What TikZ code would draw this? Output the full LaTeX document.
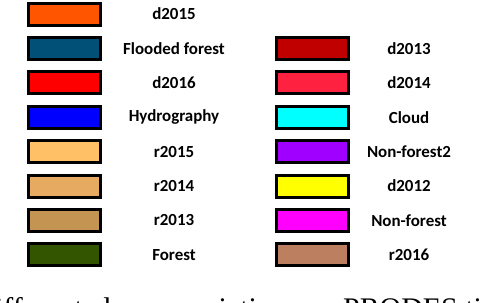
\documentclass[tikz,border=0pt]{standalone}
\usepackage{fontspec}
\setmainfont{Liberation Serif}
\newfontfamily\legendfont{Carlito}
\usepackage{xcolor}
\usepackage{tikz}
\usetikzlibrary{positioning}
\definecolor{d2015col}{RGB}{255,85,0}
\definecolor{floodcol}{RGB}{0,80,120}
\definecolor{d2016col}{RGB}{255,0,0}
\definecolor{hydrocol}{RGB}{0,0,255}
\definecolor{r2015col}{RGB}{255,192,102}
\definecolor{r2014col}{RGB}{230,170,96}
\definecolor{r2013col}{RGB}{196,148,82}
\definecolor{forestcol}{RGB}{51,85,0}
\definecolor{d2013col}{RGB}{192,0,0}
\definecolor{d2014col}{RGB}{255,34,64}
\definecolor{cloudcol}{RGB}{0,255,255}
\definecolor{nonforesttwocol}{RGB}{160,0,255}
\definecolor{d2012col}{RGB}{255,255,0}
\definecolor{nonforestcol}{RGB}{255,0,255}
\definecolor{r2016col}{RGB}{188,128,96}

\begin{document}
\begin{tikzpicture}[
    x=1bp, y=-1bp,
    node distance=9.4bp and 0bp,
    legbox/.style={rectangle, draw=black, line width=3bp, minimum width=72bp, minimum height=22bp, inner sep=0pt},
    leglabel/.style={inner sep=0pt, font=\legendfont\bfseries\fontsize{17}{20}\selectfont},
]
    \useasboundingbox (0,0) rectangle (486,302);

    % left column
    \node[legbox, fill=d2015col] (bd2015) at (64.5,14) {};
    \node[legbox, fill=floodcol, below=of bd2015] (bflood) {};
    \node[legbox, fill=d2016col, below=of bflood] (bd2016) {};
    \node[legbox, fill=hydrocol, below=of bd2016] (bhydro) {};
    \node[legbox, fill=r2015col, below=of bhydro] (br2015) {};
    \node[legbox, fill=r2014col, below=of br2015] (br2014) {};
    \node[legbox, fill=r2013col, below=of br2014] (br2013) {};
    \node[legbox, fill=forestcol, below=of br2013] (bforest) {};

    \node[leglabel] (ld2015) at ([xshift=109.5bp]bd2015.center) {d2015};
    \node[leglabel] (lflood) at ([xshift=109.5bp]bflood.center) {Flooded forest};
    \node[leglabel] (ld2016) at ([xshift=109.5bp]bd2016.center) {d2016};
    \node[leglabel] (lhydro) at ([xshift=109.5bp]bhydro.center) {Hydrography};
    \node[leglabel] (lr2015) at ([xshift=109.5bp]br2015.center) {r2015};
    \node[leglabel] (lr2014) at ([xshift=109.5bp]br2014.center) {r2014};
    \node[leglabel] (lr2013) at ([xshift=109.5bp]br2013.center) {r2013};
    \node[leglabel] (lforest) at ([xshift=109.5bp]bforest.center) {Forest};

    % right column
    \node[legbox, fill=d2013col] (bd2013) at (312,48.4) {};
    \node[legbox, fill=d2014col, below=of bd2013] (bd2014) {};
    \node[legbox, fill=cloudcol, below=of bd2014] (bcloud) {};
    \node[legbox, fill=nonforesttwocol, below=of bcloud] (bnonfor2) {};
    \node[legbox, fill=d2012col, below=of bnonfor2] (bd2012) {};
    \node[legbox, fill=nonforestcol, below=of bd2012] (bnonfor) {};
    \node[legbox, fill=r2016col, below=of bnonfor] (br2016) {};

    \node[leglabel] (ld2013) at ([xshift=97bp]bd2013.center) {d2013};
    \node[leglabel] (ld2014) at ([xshift=97bp]bd2014.center) {d2014};
    \node[leglabel] (lcloud) at ([xshift=97bp]bcloud.center) {Cloud};
    \node[leglabel] (lnonfor2) at ([xshift=97bp]bnonfor2.center) {Non-forest2};
    \node[leglabel] (ld2012) at ([xshift=97bp]bd2012.center) {d2012};
    \node[leglabel] (lnonfor) at ([xshift=97bp]bnonfor.center) {Non-forest};
    \node[leglabel] (lr2016) at ([xshift=97bp]br2016.center) {r2016};

    % caption line, cut by the page edge
    \node[anchor=base west, inner sep=0pt, font=\fontsize{30}{34}\selectfont] (capline) at (-20,318) {different classes variations on PRODES time};
\end{tikzpicture}
\end{document}
